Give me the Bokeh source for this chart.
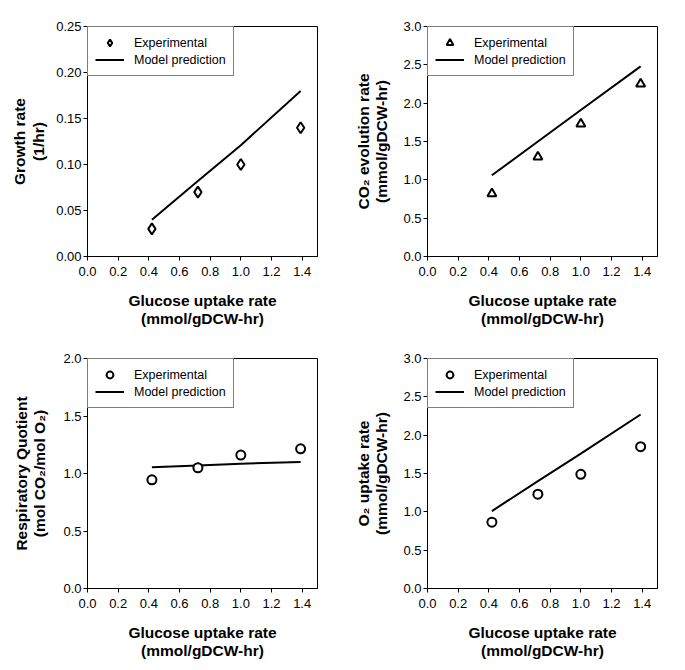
from bokeh.plotting import figure
from bokeh.layouts import gridplot
from bokeh.models import Range1d, FixedTicker, PrintfTickFormatter, Legend, LegendItem
from bokeh.embed import file_html
from bokeh.resources import INLINE

# ---- data ----
glucose = [0.42, 0.72, 1.0, 1.39]

growth_exp = [0.03, 0.07, 0.10, 0.14]
growth_model = [0.04, 0.082, 0.121, 0.18]

co2_exp = [0.82, 1.30, 1.73, 2.25]
co2_model = [1.06, 1.50, 1.91, 2.48]

rq_exp = [0.945, 1.05, 1.16, 1.215]
rq_model = [1.055, 1.07, 1.085, 1.10]

o2_exp = [0.865, 1.23, 1.49, 1.85]
o2_model = [1.01, 1.40, 1.76, 2.27]

x_ticks = [0.0, 0.2, 0.4, 0.6, 0.8, 1.0, 1.2, 1.4]
growth_ticks = [0.0, 0.05, 0.10, 0.15, 0.20, 0.25]
rate3_ticks = [0.0, 0.5, 1.0, 1.5, 2.0, 2.5, 3.0]
rq_ticks = [0.0, 0.5, 1.0, 1.5, 2.0]

x_title = "Glucose uptake rate\n(mmol/gDCW-hr)"
FONT = "Liberation Sans"


def make_panel(exp, model, yticks, yfmt, ylabel, marker, msize, ystand,
               left, right, top, bottom):
    p = figure(
        output_backend="svg", toolbar_location=None,
        frame_width=230, frame_height=230,
        min_border_left=left, min_border_right=right,
        min_border_top=top, min_border_bottom=bottom,
        x_range=Range1d(0, 1.5), y_range=Range1d(yticks[0], yticks[-1]),
        background_fill_color="white", border_fill_color="white",
        outline_line_color="black", outline_line_width=1,
    )
    p.grid.visible = False
    for ax in (p.xaxis[0], p.yaxis[0]):
        ax.axis_line_color = "black"
        ax.axis_line_width = 1
        ax.major_tick_line_color = "black"
        ax.major_tick_out = 4
        ax.major_tick_in = 0
        ax.minor_tick_line_color = None
        ax.major_label_text_font = FONT
        ax.major_label_text_font_size = "13px"
        ax.major_label_text_color = "black"
        ax.axis_label_text_font = FONT
        ax.axis_label_text_font_size = "15.5px"
        ax.axis_label_text_font_style = "bold"
        ax.axis_label_text_color = "black"
        ax.axis_label_text_line_height = 1.1
    p.xaxis.ticker = FixedTicker(ticks=x_ticks)
    p.xaxis.formatter = PrintfTickFormatter(format="%.1f")
    p.xaxis.axis_label = x_title
    p.xaxis.major_label_standoff = 6
    p.xaxis.axis_label_standoff = 13
    p.yaxis.ticker = FixedTicker(ticks=yticks)
    p.yaxis.formatter = PrintfTickFormatter(format=yfmt)
    p.yaxis.axis_label = ylabel
    p.yaxis.major_label_standoff = 2
    p.yaxis.axis_label_standoff = ystand

    ln = p.line(glucose, model, line_color="black", line_width=2)
    sc = p.scatter(glucose, exp, marker=marker, size=msize,
                   fill_color="white", line_color="black", line_width=2)

    legend = Legend(
        items=[LegendItem(label="Experimental", renderers=[sc]),
               LegendItem(label="Model prediction", renderers=[ln])],
        location="top_left", margin=0, padding=7, spacing=0,
        label_height=17, glyph_height=17, glyph_width=29, label_standoff=10,
        border_line_color="black", border_line_width=1,
        background_fill_color="white", background_fill_alpha=1,
        label_text_font=FONT, label_text_font_size="12.5px", label_text_color="black",
    )
    p.add_layout(legend)
    return p


p1 = make_panel(growth_exp, growth_model, growth_ticks, "%.2f",
                "Growth rate\n(1/hr)", "diamond", 11, 6, 87, 31, 26, 82)
p2 = make_panel(co2_exp, co2_model, rate3_ticks, "%.1f",
                "CO\u2082 evolution rate\n(mmol/gDCW-hr)", "triangle", 9, 10, 79, 19, 26, 82)
p3 = make_panel(rq_exp, rq_model, rq_ticks, "%.1f",
                "Respiratory Quotient\n(mol CO\u2082/mol O\u2082)", "circle", 9, 12, 87, 31, 20, 72)
p4 = make_panel(o2_exp, o2_model, rate3_ticks, "%.1f",
                "O\u2082 uptake rate\n(mmol/gDCW-hr)", "circle", 9, 10, 79, 19, 20, 72)

grid = gridplot([[p1, p2], [p3, p4]], toolbar_location=None)

open("out.html", "w").write(file_html(grid, INLINE))
